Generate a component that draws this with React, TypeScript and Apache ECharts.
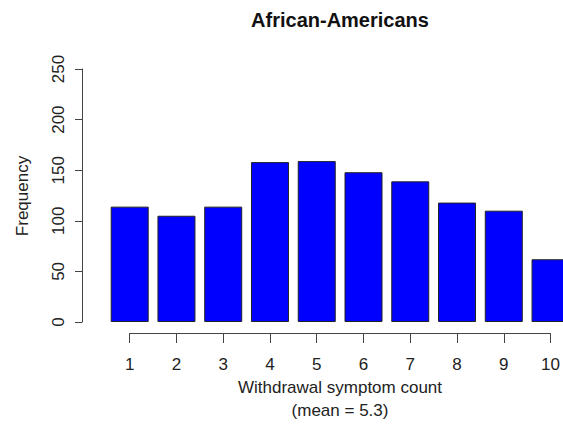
import React, { useEffect, useRef } from "react";
import * as echarts from "echarts";

const categories = [1, 2, 3, 4, 5, 6, 7, 8, 9, 10];
const frequencies = [114, 105, 114, 158, 159, 148, 139, 118, 110, 62];
const yTicks = [0, 50, 100, 150, 200, 250];
const titleText = "African-Americans";
const xTitle = "Withdrawal symptom count";
const xSubtitle = "(mean = 5.3)";
const yTitle = "Frequency";

const FONT = "'Liberation Sans', Arial, Helvetica, sans-serif";

export default function App() {
  const ref = useRef<HTMLDivElement>(null);
  useEffect(() => {
    if (!ref.current) return;
    const chart = echarts.init(ref.current, undefined, { renderer: "svg" });
    chart.setOption({
      animation: false,
      backgroundColor: "#ffffff",
      grid: { left: 129.7, right: 12.3, top: 69, bottom: 102, containLabel: false },
      xAxis: {
        type: "value",
        min: categories[0],
        max: categories[categories.length - 1],
        interval: 1,
        offset: 11,
        axisLine: { show: true, onZero: false, lineStyle: { color: "#444", width: 1 } },
        axisTick: { show: true, length: 10, lineStyle: { color: "#444", width: 1 } },
        axisLabel: {
          show: true,
          margin: 23,
          fontSize: 17,
          color: "#222",
          fontFamily: FONT,
          formatter: (v: number) => String(v),
        },
        splitLine: { show: false },
      },
      yAxis: {
        type: "value",
        min: yTicks[0],
        max: yTicks[yTicks.length - 1],
        interval: 50,
        offset: 47.7,
        axisLine: { show: true, onZero: false, lineStyle: { color: "#444", width: 1 } },
        axisTick: { show: true, length: 7, lineStyle: { color: "#444", width: 1 } },
        axisLabel: {
          show: true,
          rotate: 90,
          margin: 15,
          fontSize: 17,
          color: "#222",
          fontFamily: FONT,
        },
        splitLine: { show: false },
      },
      series: [
        {
          type: "bar",
          data: categories.map((c, i) => [c, frequencies[i]]),
          barWidth: 38,
          clip: false,
          itemStyle: { color: "#0000FF", borderColor: "#222", borderWidth: 1 },
        },
      ],
      graphic: [
        {
          type: "text",
          x: 340,
          y: 20,
          style: {
            text: titleText,
            font: `bold 20px ${FONT}`,
            fill: "#111",
            textAlign: "center",
            textVerticalAlign: "middle",
          },
        },
        {
          type: "text",
          x: 340,
          y: 387,
          style: {
            text: xTitle,
            font: `17px ${FONT}`,
            fill: "#222",
            textAlign: "center",
            textVerticalAlign: "middle",
          },
        },
        {
          type: "text",
          x: 340,
          y: 410,
          style: {
            text: xSubtitle,
            font: `17px ${FONT}`,
            fill: "#222",
            textAlign: "center",
            textVerticalAlign: "middle",
          },
        },
        {
          type: "text",
          x: 22,
          y: 196,
          rotation: Math.PI / 2,
          style: {
            text: yTitle,
            font: `17px ${FONT}`,
            fill: "#222",
            textAlign: "center",
            textVerticalAlign: "middle",
          },
        },
      ],
    });
    return () => chart.dispose();
  }, []);
  return (
    <div
      ref={ref}
      style={{ position: "fixed", left: 0, top: 0, width: 563, height: 424 }}
    />
  );
}
